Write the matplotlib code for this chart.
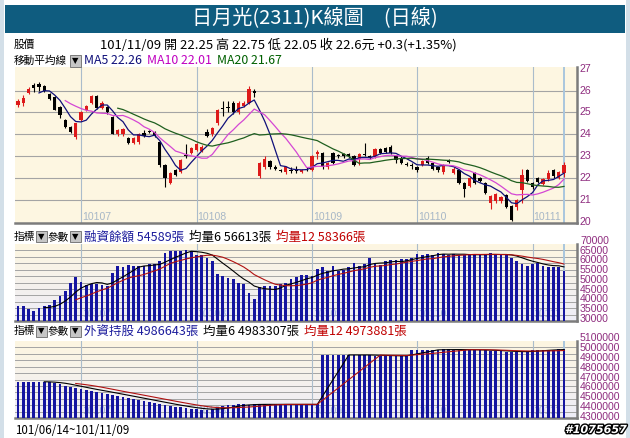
import matplotlib
matplotlib.use("Agg")
import matplotlib.pyplot as plt
import matplotlib.patheffects as pe
from matplotlib import font_manager as fm
from matplotlib.colors import LinearSegmentedColormap
from matplotlib.patches import Rectangle
from matplotlib.transforms import blended_transform_factory, offset_copy
import numpy as np
import pandas as pd

W, H = 630, 438
plt.rcParams["font.family"] = ["Noto Sans CJK TC", "DejaVu Sans"]
_names = {f.name for f in fm.fontManager.ttflist}
NUM = "Liberation Sans Narrow" if "Liberation Sans Narrow" in _names else "Liberation Sans"
NUM_SIZE = 9 if NUM == "Liberation Sans Narrow" else 7.6
LAB = 7.7   # standalone CJK labels

# ── data: 日月光 (2311) daily, 101/06/14 ~ 101/11/09 ─────────────────────────
opens = [25.35, 25.45, 25.9, 26.25, 26.3, 26.2, 25.85, 25.7, 25.25, 24.65,
         24.35, 23.9, 24.65, 25.1, 25.45, 25.75, 25.2, 25.25, 24.8, 24.0,
         24.0, 23.85, 23.6, 23.65, 24.05, 24.15, 24.1, 23.65, 22.6, 21.8,
         22.4, 22.3, 23.05, 23.15, 23.3, 23.25, 24.1, 24.0, 24.5, 25.2,
         25.25, 25.45, 25.0, 25.3, 25.45, 26.0, 22.1, 22.5, 22.8, 22.5,
         22.4, 22.3, 22.4, 22.4, 22.3, 22.45, 22.4, 23.1, 23.15, 22.5,
         23.15, 23.05, 23.1, 23.1, 23.0, 22.9, 23.1, 23.0, 23.0, 23.35,
         23.4, 23.45, 23.0, 22.95, 22.65, 22.6, 22.5, 22.6, 22.95, 22.7,
         22.5, 22.3, 22.8, 22.25, 22.4, 21.8, 21.65, 22.25, 22.0, 21.8,
         20.9, 20.95, 20.95, 21.25, 20.75, 20.7, 21.45, 22.4, 21.8, 22.0,
         21.75, 21.95, 22.4, 22.0, 22.25]
highs = [25.6, 25.8, 26.15, 26.35, 26.4, 26.25, 25.9, 25.75, 25.3, 24.7,
         24.4, 24.5, 25.05, 25.35, 25.8, 25.8, 25.5, 25.3, 24.85, 24.25,
         24.3, 23.9, 23.9, 24.05, 24.2, 24.2, 24.15, 23.7, 22.65, 22.3,
         22.45, 22.9, 23.55, 23.45, 23.6, 23.5, 24.25, 24.35, 25.15, 25.5,
         25.5, 25.5, 25.5, 25.5, 26.2, 26.05, 22.75, 23.0, 22.85, 22.6,
         22.45, 22.55, 22.5, 22.55, 22.45, 22.5, 23.05, 23.3, 23.2, 22.75,
         23.2, 23.1, 23.15, 23.15, 23.05, 23.15, 23.6, 23.05, 23.4, 23.4,
         23.45, 23.5, 23.0, 23.0, 22.75, 22.7, 22.55, 22.85, 23.0, 22.75,
         22.5, 22.65, 22.9, 22.5, 22.45, 21.85, 22.05, 22.3, 22.05, 21.85,
         21.25, 21.35, 21.2, 21.3, 20.8, 21.05, 22.45, 22.45, 21.85, 22.05,
         22.0, 22.4, 22.45, 22.35, 22.75]
lows = [25.25, 25.3, 25.85, 25.95, 26.0, 25.95, 25.55, 25.1, 24.75, 24.3,
        24.05, 23.8, 24.6, 25.05, 25.4, 25.15, 25.15, 24.95, 24.0, 23.95,
        23.95, 23.55, 23.55, 23.55, 23.9, 24.05, 23.9, 22.5, 21.6, 21.75,
        22.1, 22.25, 22.95, 23.1, 23.25, 23.2, 23.9, 23.95, 24.45, 24.85,
        25.0, 24.95, 24.95, 25.25, 25.4, 25.7, 22.0, 22.45, 22.45, 22.4,
        22.3, 22.2, 22.25, 22.25, 22.25, 22.35, 22.35, 22.9, 22.45, 22.45,
        22.65, 22.95, 22.95, 22.95, 22.55, 22.6, 23.0, 22.9, 22.95, 23.1,
        23.15, 23.1, 22.7, 22.65, 22.55, 22.45, 22.3, 22.55, 22.65, 22.4,
        22.3, 22.2, 22.7, 22.2, 21.75, 21.15, 21.6, 21.75, 21.85, 21.3,
        20.6, 20.9, 20.9, 20.65, 20.05, 20.55, 20.9, 21.85, 21.5, 21.8,
        21.7, 21.9, 22.0, 21.95, 22.05]
closes = [25.5, 25.65, 26.05, 26.1, 26.15, 26.0, 25.6, 25.1, 24.9, 24.35,
          24.1, 24.5, 25.0, 25.3, 25.75, 25.2, 25.45, 25.0, 24.0, 24.2,
          24.25, 23.6, 23.85, 24.0, 23.95, 24.1, 23.95, 22.6, 22.0, 22.25,
          22.15, 22.85, 23.0, 23.4, 23.55, 23.45, 23.95, 24.3, 25.1, 25.15,
          25.2, 25.0, 25.45, 25.45, 26.05, 25.9, 22.7, 22.9, 22.5, 22.45,
          22.35, 22.5, 22.35, 22.35, 22.4, 22.4, 23.0, 23.2, 22.5, 22.7,
          22.7, 23.0, 23.0, 23.0, 22.6, 23.1, 23.05, 22.95, 23.35, 23.15,
          23.2, 23.15, 22.85, 22.7, 22.6, 22.55, 22.4, 22.8, 22.7, 22.45,
          22.4, 22.6, 22.75, 22.45, 21.8, 21.5, 22.0, 21.8, 21.9, 21.35,
          21.2, 21.3, 21.15, 20.7, 20.1, 21.0, 22.15, 21.9, 21.6, 21.85,
          21.95, 22.25, 22.1, 22.3, 22.6]
# 融資餘額 (張)
margin = [36400, 36400, 35200, 34200, 35600, 36400, 37300, 39400, 41600, 44200,
          48500, 51500, 49100, 47300, 47700, 47700, 47300, 46900, 53800, 57200,
          56400, 57700, 57200, 57200, 57200, 58400, 58400, 59500, 64100, 64700,
          64700, 65000, 65300, 64700, 62900, 62900, 61500, 59500, 52900, 52000,
          51200, 50300, 48500, 47700, 43400, 39900, 46300, 46800, 47100, 46800,
          48000, 48500, 50300, 51500, 52500, 52500, 52000, 55500, 56400, 54600,
          57200, 54600, 55000, 56400, 58900, 57200, 58400, 61500, 58400, 57700,
          59500, 60100, 60100, 60700, 60700, 61500, 63300, 62900, 63300, 62900,
          64100, 63300, 62900, 63300, 62900, 62900, 62900, 62900, 62900, 63300,
          63700, 62900, 62900, 62900, 61500, 59800, 58400, 57200, 58000, 58900,
          57200, 56400, 56400, 56700, 54589]
# 外資持股 (張)
foreign = [4657000, 4657000, 4657000, 4657000, 4657000, 4657000, 4650000, 4640000, 4630000, 4617000,
           4603000, 4593000, 4586000, 4576000, 4566000, 4556000, 4546000, 4536000, 4526000, 4516000,
           4506000, 4496000, 4486000, 4475000, 4465000, 4455000, 4445000, 4435000, 4425000, 4415000,
           4404000, 4398000, 4391000, 4384000, 4378000, 4374000, 4371000, 4378000, 4398000, 4411000,
           4418000, 4425000, 4427000, 4428000, 4426000, 4428000, 4430000, 4429000, 4428000, 4427000,
           4428000, 4429000, 4428000, 4427000, 4428000, 4428000, 4427000, 4428000, 4926000, 4928000,
           4929000, 4928000, 4930000, 4929000, 4928000, 4927000, 4929000, 4928000, 4921000, 4919000,
           4918000, 4920000, 4921000, 4919000, 4922000, 4976000, 4978000, 4980000, 4981000, 4982000,
           4983000, 4984000, 4984000, 4983000, 4982000, 4981000, 4980000, 4979000, 4978000, 4976000,
           4972000, 4968000, 4965000, 4962000, 4958000, 4960000, 4963000, 4967000, 4975000, 4981000,
           4982000, 4983000, 4983000, 4984000, 4986643]
month_start = [12, 34, 56, 76, 98]
month_labels = ["10107", "10108", "10109", "10110", "10111"]
price_ticks = [27, 26, 25, 24, 23, 22, 21, 20]
margin_ticks = [70000, 65000, 60000, 55000, 50000, 45000, 40000, 35000, 30000]
foreign_ticks = [5100000, 5000000, 4900000, 4800000, 4700000, 4600000, 4500000, 4400000, 4300000]

# ── colours ──────────────────────────────────────────────────────────────────
CREAM = "#fdf6e1"; LAV = "#eeedf8"; GRID = "#a4a4a4"; VGRID = "#aabccb"; CURSOR = "#a9c6dd"
SPINE = "#7c7c7c"; PURPLE = "#8e2c7e"; RED = "#dd1a1a"; BAR = "#1414a0"
MA5C = "#10107a"; MA10C = "#d447d4"; MA20C = "#1f5f1f"; NAVY = "#1c1c9c"; DRED = "#c00000"

fig = plt.figure(figsize=(W / 100, H / 100), dpi=100)
fig.patch.set_facecolor("white")
R = fig.canvas.get_renderer()

def fx(px): return px / W
def fy(py): return 1 - py / H

def px_axes(x0, y0, x1, y1):
    return fig.add_axes([fx(x0), fy(y1), (x1 - x0) / W, (y1 - y0) / H])

def frect(x0, y0, w, h, **kw):
    fig.add_artist(Rectangle((fx(x0), fy(y0 + h)), w / W, h / H, transform=fig.transFigure, **kw))

def dropdown(x, y):
    frect(x, y - 5.5, 11, 11, facecolor="#c6c6c6", edgecolor="#6a6a6a", lw=0.6)
    fig.text(fx(x + 5.5), fy(y), "▼", fontsize=6, ha="center", va="center", family="DejaVu Sans")

def row(x0, x1, y, parts, size=8.5, gap=5):
    ts = [fig.text(0, fy(y), s, color=c, fontsize=size, va="center", ha="left") for s, c in parts]
    tot = sum(t.get_window_extent(R).width for t in ts)
    k = (x1 - x0 - gap * (len(ts) - 1)) / tot
    x = x0
    for t in ts:
        t.set_fontsize(size * k); t.set_x(fx(x))
        x += t.get_window_extent(R).width + gap

# frame + title bar
frect(0, 0, 4, H, color="#d3dfe8", lw=0)
frect(626, 0, 4, H, color="#d3dfe8", lw=0)
frect(5, 5, 620, 28, color="#0f5c7f", lw=0)
fig.text(fx(315), fy(19), "日月光(2311)K線圖　(日線)", color="white", fontsize=14.5, ha="center", va="center")

# header rows
fig.text(fx(14), fy(45), "股價", fontsize=LAB, va="center")
row(100, 456, 45, [("101/11/09 開 22.25 高 22.75 低 22.05 收 22.6元 +0.3(+1.35%)", "black")])
fig.text(fx(14), fy(61), "移動平均線", fontsize=LAB, va="center")
dropdown(70, 61)
row(84, 283, 61, [("MA5 22.26", MA5C), ("MA10 22.01", "#c000c0"), ("MA20 21.67", "#006000")])

for yh, parts, x1 in [(237, [("融資餘額 54589張", NAVY), ("均量6 56613張", "black"), ("均量12 58366張", DRED)], 365),
                      (331, [("外資持股 4986643張", NAVY), ("均量6 4983307張", "black"), ("均量12 4973881張", DRED)], 404)]:
    fig.text(fx(14), fy(yh), "指標", fontsize=LAB, va="center")
    dropdown(36, yh)
    fig.text(fx(48), fy(yh), "參數", fontsize=LAB, va="center")
    dropdown(70, yh)
    row(84, x1, yh, parts)

x = np.arange(len(closes))
XL, XR = (15 - 18) / 5.25, (577 - 18) / 5.25

def style(ax, ylim, ticks, dy=0):
    ax.set_xlim(XL, XR); ax.set_ylim(*ylim)
    for s in ("top", "left"): ax.spines[s].set_visible(False)
    for s in ("right", "bottom"):
        ax.spines[s].set_color(SPINE); ax.spines[s].set_linewidth(1.8)
    ax.set_xticks([]); ax.set_yticks([])
    tr = offset_copy(blended_transform_factory(ax.transAxes, ax.transData), fig=fig, x=3, y=dy, units="dots")
    for v in ticks:
        ax.text(1, v, f"{v}", transform=tr, color=PURPLE, fontsize=NUM_SIZE, family=NUM, va="center", ha="left")
    for m in month_start: ax.axvline(m, color=VGRID, lw=0.8, zorder=1)
    ax.axvline(x[-1], color=CURSOR, lw=1.4, zorder=1)

def gradient_bg(ax):
    cm = LinearSegmentedColormap.from_list("bg", [LAV, CREAM])
    ax.imshow(np.linspace(0, 1, 64)[:, None], cmap=cm, extent=[0, 1, 0, 1], transform=ax.transAxes,
              aspect="auto", origin="lower", zorder=0)

# ── 1. K-line panel ──────────────────────────────────────────────────────────
ax1 = px_axes(15, 67, 577, 223)
ax1.set_facecolor(CREAM)
for v in price_ticks[1:-1]: ax1.axhline(v, color=GRID, lw=0.8, zorder=1)
o = np.array(opens); c = np.array(closes)
col = np.where(c >= o, RED, "black")
ax1.vlines(x, lows, highs, colors=col, lw=0.8, zorder=3)
ax1.bar(x, np.maximum(np.abs(c - o), 0.04), bottom=np.minimum(o, c), width=0.6, color=col, lw=0, zorder=4)
cs = pd.Series(closes)
ax1.plot(x, cs.rolling(5).mean(), color=MA5C, lw=0.9, zorder=5)
ax1.plot(x, cs.rolling(10).mean(), color=MA10C, lw=0.9, zorder=5)
ax1.plot(x, cs.rolling(20).mean(), color=MA20C, lw=0.9, zorder=5)
style(ax1, (19.97, 27.07), price_ticks)
for m, lab in zip(month_start, month_labels):
    ax1.text(m + 0.2, 20.03, lab, color="#a7b7c7", fontsize=NUM_SIZE, family=NUM, va="bottom", ha="left", zorder=2)

# ── 2./3. 融資餘額 & 外資持股 ─────────────────────────────────────────────────
def sub_panel(y0, y1, vals, ylim, ticks, dy):
    ax = px_axes(15, y0, 577, y1)
    gradient_bg(ax)
    for v in np.linspace(ylim[0], ylim[1], 13)[1:-1]: ax.axhline(v, color=GRID, lw=0.7, zorder=1)
    tb = blended_transform_factory(ax.transData, ax.transAxes)
    for m, lab in zip(month_start, month_labels):
        ax.text(m + 0.2, 0.02, lab, transform=tb, color="#9fb1d6", fontsize=NUM_SIZE, family=NUM,
                va="bottom", ha="left", zorder=2)
    ax.bar(x, np.array(vals) - ylim[0], bottom=ylim[0], width=0.5, color=BAR, lw=0, zorder=3)
    sv = pd.Series(vals)
    ax.plot(x, sv.rolling(6).mean(), color="black", lw=0.8, zorder=4)
    ax.plot(x, sv.rolling(12).mean(), color="#b01010", lw=0.8, zorder=4)
    style(ax, ylim, ticks, dy)
    return ax

sub_panel(244, 321, margin, (28800, 68500), margin_ticks, 0)
sub_panel(341, 418, foreign, (4290000, 5070000), foreign_ticks, 0)

fig.text(fx(15), fy(430), "101/06/14~101/11/09", fontsize=8.3, va="center")
fig.text(fx(596), fy(430), "#1075657", fontsize=8, fontweight="bold", style="italic", color="white",
         ha="center", va="center", family="DejaVu Sans",
         path_effects=[pe.withStroke(linewidth=2, foreground="black")])

fig.savefig("out.png", dpi=100)
